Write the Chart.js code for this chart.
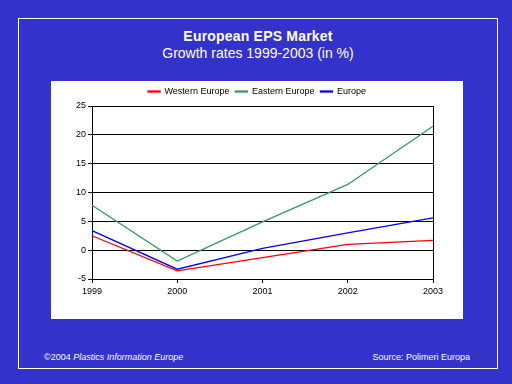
<!DOCTYPE html>
<html>
<head>
<meta charset="utf-8">
<script src="https://cdn.jsdelivr.net/npm/chart.js@4/dist/chart.umd.min.js"></script>
<style>
  html, body { margin:0; padding:0; }
  body { width:512px; height:384px; background:#3333CC; position:relative; overflow:hidden; font-family:"Liberation Sans", Arial, sans-serif; }
  #frame { position:absolute; left:18px; top:18px; width:478px; height:349px; border:1px solid #fff; }
  #title { position:absolute; left:18px; width:480px; top:27px; text-align:center; color:#fff; font-weight:bold; font-size:14px; letter-spacing:0.2px; line-height:18px; }
  #subtitle { position:absolute; left:18px; width:480px; top:44px; text-align:center; color:#fff; font-size:14px; line-height:18px; }
  #panel { position:absolute; left:51px; top:81px; width:412px; height:238px; background:#fff; }
  #foot-left { position:absolute; left:44px; top:351px; color:#fff; font-size:9px; line-height:12px; }
  #foot-right { position:absolute; right:42px; top:351px; color:#fff; font-size:9px; line-height:12px; }
</style>
</head>
<body>
<div id="frame"></div>
<div id="title">European EPS Market</div>
<div id="subtitle">Growth rates 1999-2003 (in %)</div>
<div id="panel"><canvas id="c" width="412" height="238"></canvas></div>
<div id="foot-left">©2004 <i>Plastics Information Europe</i></div>
<div id="foot-right">Source: Polimeri Europa</div>
<script>
const years = ["1999", "2000", "2001", "2002", "2003"];
const westernEurope = [2.5, -3.6, -1.3, 1.0, 1.7];
const easternEurope = [7.8, -1.9, 4.9, 11.4, 21.5];
const europe = [3.4, -3.3, 0.3, 3.0, 5.6];
const yTicks = [-5, 0, 5, 10, 15, 20, 25];

const FONT = "'Liberation Sans', Arial, sans-serif";

new Chart(document.getElementById('c'), {
  type: 'line',
  data: {
    labels: years,
    datasets: [
      { label: 'Western Europe', data: westernEurope, borderColor: '#FF0000', backgroundColor: '#FF0000', borderWidth: 1.3, pointRadius: 0, tension: 0, fill: false },
      { label: 'Eastern Europe', data: easternEurope, borderColor: '#339966', backgroundColor: '#339966', borderWidth: 1.3, pointRadius: 0, tension: 0, fill: false },
      { label: 'Europe', data: europe, borderColor: '#0000FF', backgroundColor: '#0000FF', borderWidth: 1.3, pointRadius: 0, tension: 0, fill: false }
    ]
  },
  options: {
    responsive: false,
    devicePixelRatio: 1,
    animation: false,
    layout: { padding: { left: 0, right: 0, top: 0, bottom: 0 } },
    plugins: {
      legend: {
        display: true,
        position: 'top',
        labels: {
          boxWidth: 12,
          boxHeight: 1,
          padding: 6,
          color: '#000',
          font: { family: FONT, size: 9 }
        }
      },
      title: { display: false },
      tooltip: { enabled: false }
    },
    scales: {
      x: {
        offset: false,
        grid: {
          drawOnChartArea: true,
          color: (ctx) => (ctx.index === years.length - 1 ? '#000' : 'rgba(0,0,0,0)'),
          tickColor: '#000',
          tickLength: 4,
          lineWidth: 1
        },
        border: { display: true, color: '#000', width: 1 },
        ticks: { color: '#000', font: { family: FONT, size: 9 }, padding: 3, maxRotation: 0 },
        afterFit: (s) => { s.height = 40; }
      },
      y: {
        min: -5,
        max: 25,
        afterBuildTicks: (s) => { s.ticks = yTicks.map(v => ({ value: v })); },
        grid: { color: '#000', tickColor: '#000', tickLength: 4, lineWidth: 1 },
        border: { display: true, color: '#000', width: 1 },
        ticks: { color: '#000', font: { family: FONT, size: 9 }, padding: 2 },
        afterFit: (s) => { s.width = 41; }
      },
      yRight: {
        position: 'right',
        min: -5,
        max: 25,
        grid: { display: false },
        border: { display: false },
        ticks: { display: false },
        afterFit: (s) => { s.width = 30; }
      }
    }
  }
});
</script>
</body>
</html>
